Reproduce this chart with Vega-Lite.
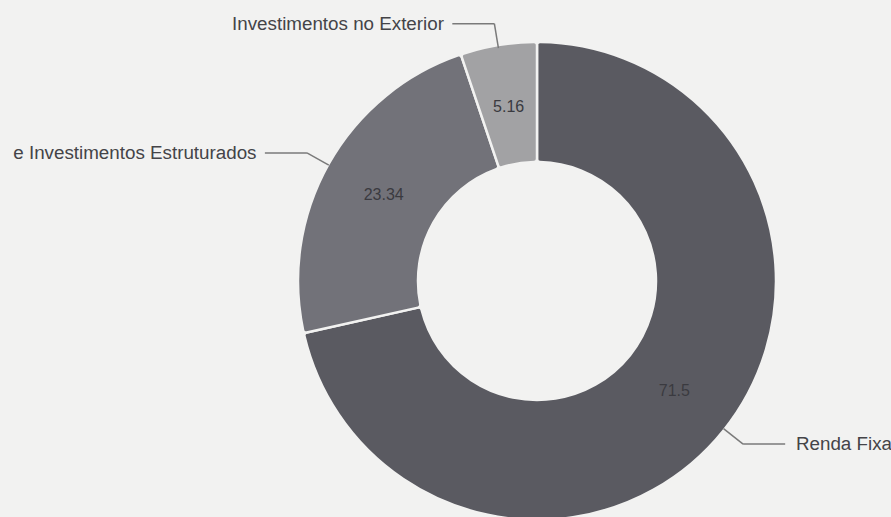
{
  "$schema": "https://vega.github.io/schema/vega-lite/v6.json",
  "width": 478,
  "height": 472,
  "autosize": {"type": "none"},
  "padding": {"left": 298, "top": 45, "right": 115, "bottom": 0},
  "background": "#f2f2f1",
  "config": {"view": {"stroke": null}},
  "data": {
    "values": [
      {"category": "Renda Fixa", "value": 71.5},
      {"category": "e Investimentos Estruturados", "value": 23.34},
      {"category": "Investimentos no Exterior", "value": 5.16}
    ]
  },
  "layer": [
    {
      "mark": {"type": "arc", "outerRadius": 239, "innerRadius": 119, "stroke": "#f2f2f1", "strokeWidth": 2.5, "cornerRadius": 3},
      "encoding": {
        "theta": {"field": "value", "type": "quantitative", "stack": true},
        "order": {"field": "value", "type": "quantitative", "sort": "descending"},
        "color": {
          "field": "category",
          "type": "nominal",
          "scale": {
            "domain": ["Renda Fixa", "e Investimentos Estruturados", "Investimentos no Exterior"],
            "range": ["#5a5a61", "#727279", "#a2a2a4"]
          },
          "legend": null
        }
      }
    },
    {
      "mark": {"type": "text", "radius": 176, "font": "Liberation Sans", "fontSize": 16, "color": "#3a3a40"},
      "encoding": {
        "theta": {"field": "value", "type": "quantitative", "stack": true},
        "order": {"field": "value", "type": "quantitative", "sort": "descending"},
        "text": {"field": "value", "type": "quantitative"}
      }
    },
    {
      "transform": [
        {"joinaggregate": [{"op": "sum", "field": "value", "as": "total"}]},
        {"window": [{"op": "sum", "field": "value", "as": "cum"}], "sort": [{"field": "value", "order": "descending"}], "frame": [null, 0]},
        {"calculate": "2*PI*(datum.cum - datum.value/2)/datum.total", "as": "ang"},
        {"calculate": "sin(datum.ang)", "as": "x0"},
        {"calculate": "cos(datum.ang)", "as": "y0"},
        {"calculate": "1.105*datum.x0", "as": "x1"},
        {"calculate": "1.105*datum.y0", "as": "y1"},
        {"calculate": "datum.x1 + (datum.x0 > 0 ? 0.176 : -0.176)", "as": "x2"},
        {"calculate": "datum.x2 + (datum.x0 > 0 ? 0.045 : -0.035)", "as": "xt"}
      ],
      "layer": [
        {
          "mark": {"type": "rule", "color": "#7a7a7a", "strokeWidth": 1.5},
          "encoding": {
            "x": {"field": "x0", "type": "quantitative", "scale": {"domain": [-1, 1]}, "axis": null},
            "y": {"field": "y0", "type": "quantitative", "scale": {"domain": [-0.98745, 0.98745]}, "axis": null},
            "x2": {"field": "x1"},
            "y2": {"field": "y1"}
          }
        },
        {
          "mark": {"type": "rule", "color": "#7a7a7a", "strokeWidth": 1.5},
          "encoding": {
            "x": {"field": "x1", "type": "quantitative"},
            "y": {"field": "y1", "type": "quantitative"},
            "x2": {"field": "x2"}
          }
        },
        {
          "transform": [{"filter": "datum.x0 > 0"}],
          "mark": {"type": "text", "align": "left", "baseline": "middle", "font": "Liberation Sans", "fontSize": 18.8, "color": "#444448"},
          "encoding": {
            "x": {"field": "xt", "type": "quantitative"},
            "y": {"field": "y1", "type": "quantitative"},
            "text": {"field": "category"}
          }
        },
        {
          "transform": [{"filter": "datum.x0 <= 0"}],
          "mark": {"type": "text", "align": "right", "baseline": "middle", "font": "Liberation Sans", "fontSize": 18.8, "color": "#444448"},
          "encoding": {
            "x": {"field": "xt", "type": "quantitative"},
            "y": {"field": "y1", "type": "quantitative"},
            "text": {"field": "category"}
          }
        }
      ]
    }
  ]
}
